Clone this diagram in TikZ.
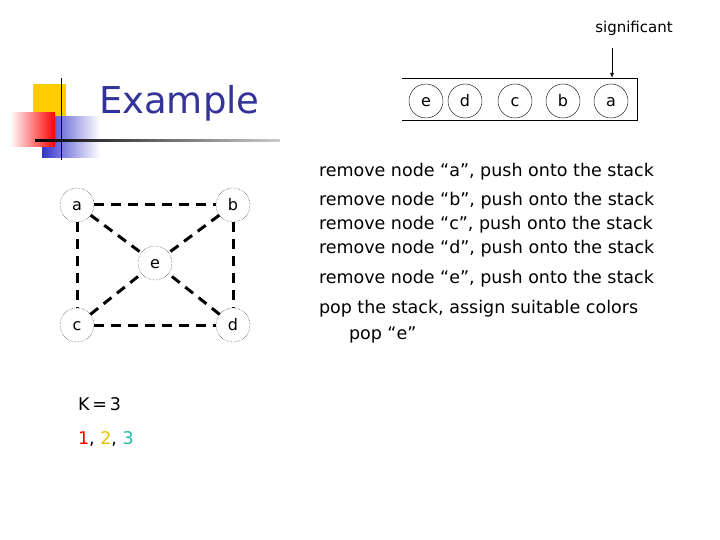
\documentclass[tikz,border=0pt]{standalone}
\usepackage{fontspec}
\setmainfont{DejaVu Sans}
\definecolor{titleblue}{HTML}{333399}
\definecolor{logoyellow}{HTML}{FFCC00}
\definecolor{logoblue}{HTML}{3333CC}
\definecolor{kyellow}{HTML}{E8C000}
\definecolor{kteal}{HTML}{22BBAA}
\begin{document}
\begin{tikzpicture}
[x=1pt,y=-1pt,
 every node/.style={inner sep=0pt,outer sep=0pt},
 vert/.style={circle,draw=black,densely dotted,thin,minimum size=34pt,text height=11pt,text depth=0pt,font=\fontsize{16}{16}\selectfont},
 item/.style={circle,draw=black,thin,minimum size=34pt,text height=11pt,text depth=0pt,font=\fontsize{16}{16}\selectfont},
 link/.style={line width=3pt,dash pattern=on 10pt off 7pt},
 txt/.style={anchor=west,text height=13pt,text depth=4pt,font=\fontsize{17.5}{18}\selectfont}]
\useasboundingbox (0,0) rectangle (720,540);
% logo
\fill[logoyellow] (33,84) rectangle (66,117);
\fill[left color=logoblue,right color=white] (42,117) rectangle (100,158);
\fill[right color=red,left color=white] (10,113) rectangle (55,147);
\draw[thick] (61,78) -- (61,160);
\shade[left color=black,right color=gray!40] (35,140) rectangle (280,142);
\node[anchor=west,text=titleblue,font=\fontsize{37}{37}\selectfont] (title) at (99,103) {Example};
% graph
\node[vert] (a) at (77,205)  {a};
\node[vert] (b) at (233,205) {b};
\node[vert] (c) at (77,325)  {c};
\node[vert] (d) at (233,325) {d};
\node[vert] (e) at (155,263) {e};
\draw[link] (a) -- (b);
\draw[link] (c) -- (d);
\draw[link] (a) -- (c);
\draw[link] (b) -- (d);
\draw[link] (a) -- (e);
\draw[link] (b) -- (e);
\draw[link] (c) -- (e);
\draw[link] (d) -- (e);
\node[txt] (k) at (78,406) {K\,=\,3};
\node[txt] (cols) at (78,440) {\textcolor{red}{1}, \textcolor{kyellow}{2}, \textcolor{kteal}{3}};
% stack
\draw[thin] (402,78) -- (637,78) -- (637,120) -- (402,120);
\node[item] (se) at (426,101) {e};
\node[item] (sd) at (465,101) {d};
\node[item] (sc) at (515,101) {c};
\node[item] (sb) at (563,101) {b};
\node[item] (sa) at (611,101) {a};
\node[font=\fontsize{15}{15}\selectfont] (sig) at (634,28) {significant};
\coordinate (top) at (612,78);
\draw[thick,-latex] (612,48) -- (top);
% steps
\node[txt] (s1) at (319,172) {remove node “a”, push onto the stack};
\node[txt] (s2) at (319,201) {remove node “b”, push onto the stack};
\node[txt] (s3) at (319,225) {remove node “c”, push onto the stack};
\node[txt] (s4) at (319,249) {remove node “d”, push onto the stack};
\node[txt] (s5) at (319,279) {remove node “e”, push onto the stack};
\node[txt] (s6) at (319,309) {pop the stack, assign suitable colors};
\node[txt] (s7) at (349,335) {pop “e”};
\end{tikzpicture}
\end{document}
